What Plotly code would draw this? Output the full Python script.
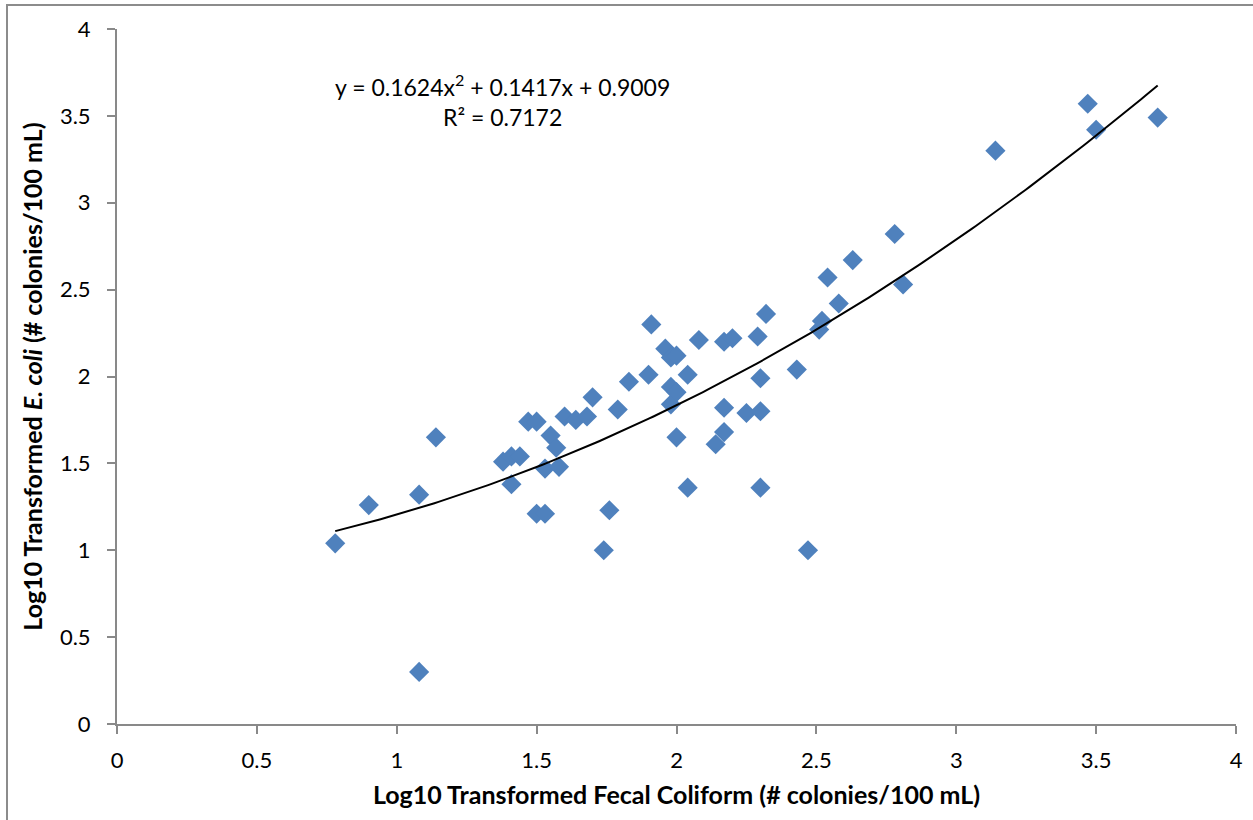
import numpy as np
import plotly.graph_objects as go

# Data
fecal_coliform = [0.78, 0.90, 1.08, 1.08, 1.14, 1.38, 1.41, 1.44, 1.41, 1.47,
                  1.50, 1.50, 1.53, 1.53, 1.55, 1.57, 1.58, 1.60, 1.64, 1.68,
                  1.70, 1.74, 1.76, 1.79, 1.83, 1.90, 1.91, 1.96, 1.98, 2.00,
                  1.98, 1.98, 2.00, 2.00, 2.04, 2.04, 2.08, 2.14, 2.17, 2.17,
                  2.17, 2.20, 2.25, 2.29, 2.30, 2.30, 2.30, 2.32, 2.43, 2.47,
                  2.51, 2.52, 2.54, 2.58, 2.63, 2.78, 2.81, 3.14, 3.47, 3.50,
                  3.72]
e_coli = [1.04, 1.26, 1.32, 0.30, 1.65, 1.51, 1.54, 1.54, 1.38, 1.74,
          1.74, 1.21, 1.21, 1.47, 1.66, 1.59, 1.48, 1.77, 1.75, 1.77,
          1.88, 1.00, 1.23, 1.81, 1.97, 2.01, 2.30, 2.16, 2.11, 2.12,
          1.94, 1.84, 1.91, 1.65, 2.01, 1.36, 2.21, 1.61, 2.20, 1.82,
          1.68, 2.22, 1.79, 2.23, 1.99, 1.80, 1.36, 2.36, 2.04, 1.00,
          2.27, 2.32, 2.57, 2.42, 2.67, 2.82, 2.53, 3.30, 3.57, 3.42,
          3.49]
trend_coeffs = [0.1624, 0.1417, 0.9009]   # quadratic trendline shown on chart
r_squared = 0.7172
x_ticks = [0, 0.5, 1, 1.5, 2, 2.5, 3, 3.5, 4]
y_ticks = [0, 0.5, 1, 1.5, 2, 2.5, 3, 3.5, 4]

FONT = "Lato, 'Open Sans', sans-serif"
AXIS_GRAY = "#898989"
W, H = 1253, 820
ML, MR, MT, MB = 117, 17, 29, 96
PW, PH = W - ML - MR, H - MT - MB

x_fit = np.linspace(min(fecal_coliform), max(fecal_coliform), 200)
y_fit = np.polyval(trend_coeffs, x_fit)

fig = go.Figure()
fig.add_trace(go.Scatter(
    x=fecal_coliform, y=e_coli, mode="markers",
    marker=dict(symbol="diamond", size=15.5, color="#4F81BD",
                line=dict(width=0)),
    showlegend=False, hoverinfo="x+y"))
fig.add_trace(go.Scatter(
    x=x_fit, y=y_fit, mode="lines",
    line=dict(color="black", width=2),
    showlegend=False, hoverinfo="skip"))

fig.add_annotation(
    x=(502 - ML) / PW, y=(H - MB - 100) / PH, xref="paper", yref="paper",
    text=(f"y = {trend_coeffs[0]}x<sup>2</sup> + {trend_coeffs[1]}x + {trend_coeffs[2]}"
          f"<br>R² = {r_squared}"),
    showarrow=False, align="center", xanchor="center", yanchor="middle",
    font=dict(family=FONT, size=23, color="black"))

# outer chart border (left and top visible)
fig.add_shape(type="rect", xref="paper", yref="paper",
              x0=(7 - ML) / PW, x1=(1300 - ML) / PW,
              y0=(H - MB - 870) / PH, y1=(H - MB - 5) / PH,
              line=dict(color="#8c8c8c", width=2), fillcolor="rgba(0,0,0,0)",
              layer="below")

fig.update_xaxes(
    range=[0, 4], tickvals=x_ticks, ticktext=[f"{v:g}" for v in x_ticks],
    showgrid=False, zeroline=False, showline=True, linecolor=AXIS_GRAY,
    linewidth=2, ticks="outside", ticklen=8, tickwidth=2, tickcolor=AXIS_GRAY,
    ticklabelstandoff=8,
    tickfont=dict(family=FONT, size=22, color="black"),
    title=dict(text="<b>Log10 Transformed Fecal Coliform (# colonies/100 mL)</b>",
               font=dict(family=FONT, size=25, color="black"), standoff=14))
fig.update_yaxes(
    range=[0, 4], tickvals=y_ticks, ticktext=[f"{v:g}" for v in y_ticks],
    showgrid=False, zeroline=False, showline=True, linecolor=AXIS_GRAY,
    linewidth=2, ticks="outside", ticklen=8, tickwidth=2, tickcolor=AXIS_GRAY,
    ticklabelstandoff=12,
    tickfont=dict(family=FONT, size=22, color="black"),
    title=dict(text="<b>Log10 Transformed <i>E. coli</i> (# colonies/100 mL)</b>",
               font=dict(family=FONT, size=25, color="black"), standoff=10))

fig.update_layout(
    width=W, height=H,
    margin=dict(l=ML, r=MR, t=MT, b=MB, autoexpand=False),
    paper_bgcolor="white", plot_bgcolor="white",
    font=dict(family=FONT, color="black"))

fig.write_html("out.html",
               config={"displayModeBar": False},
               post_script="document.body.style.margin='0px';"
                           "document.body.style.overflow='hidden';")
